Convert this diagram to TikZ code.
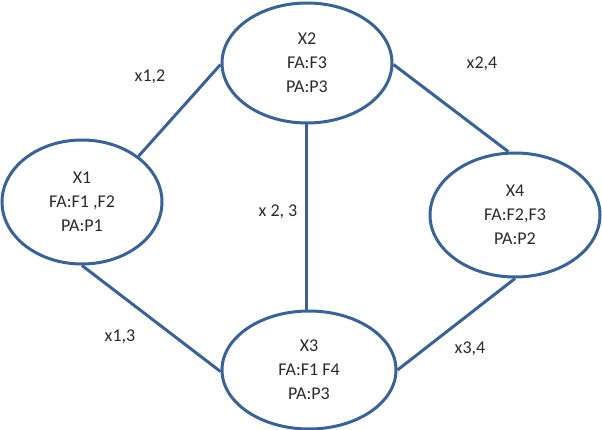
\documentclass[tikz,border=0pt]{standalone}
\usepackage{fontspec}
\setmainfont{Carlito}
\usetikzlibrary{shapes.geometric}
\definecolor{edgeblue}{HTML}{3A6393}
\definecolor{txt}{HTML}{2A2A2A}
\tikzset{
  state/.style={ellipse, draw=edgeblue, line width=3pt, fill=white, inner sep=0pt,
    text=txt, align=center, font=\fontsize{18}{24}\selectfont},
  link/.style={draw=edgeblue, line width=3pt},
  lbl/.style={text=txt, font=\fontsize{18}{20}\selectfont, inner sep=0pt}
}
\begin{document}
\begin{tikzpicture}[x=1pt,y=-1pt]
\useasboundingbox (0,0) rectangle (602,430);
\node[state, minimum width=160pt, minimum height=124pt] (x1) at (82,202) {X1\\FA:F1 ,F2\\PA:P1};
\node[state, minimum width=170pt, minimum height=120pt] (x2) at (307,63) {X2\\FA:F3\\PA:P3};
\node[state, minimum width=170pt, minimum height=124pt] (x4) at (515,215) {X4\\FA:F2,F3\\PA:P2};
\node[state, minimum width=174pt, minimum height=118pt] (x3) at (309,370) {X3\\FA:F1 F4\\PA:P3};
\coordinate (x23top) at ([xshift=-1pt]x2.south);
\draw[link] (x1.39) -- (x2.181);
\draw[link] (x2.-1) -- (x4.96);
\draw[link] (x23top) -- (x23top |- x3.north);
\draw[link] (x1.south) -- (x3.181);
\draw[link] (x3.east) -- (x4.south);
\node[lbl] (l12) at (150,77) {x1,2};
\node[lbl] (l24) at (482,64) {x2,4};
\node[lbl] (l23) at (278,212) {x 2, 3};
\node[lbl] (l13) at (120,337) {x1,3};
\node[lbl] (l34) at (470,349) {x3,4};
\end{tikzpicture}
\end{document}
